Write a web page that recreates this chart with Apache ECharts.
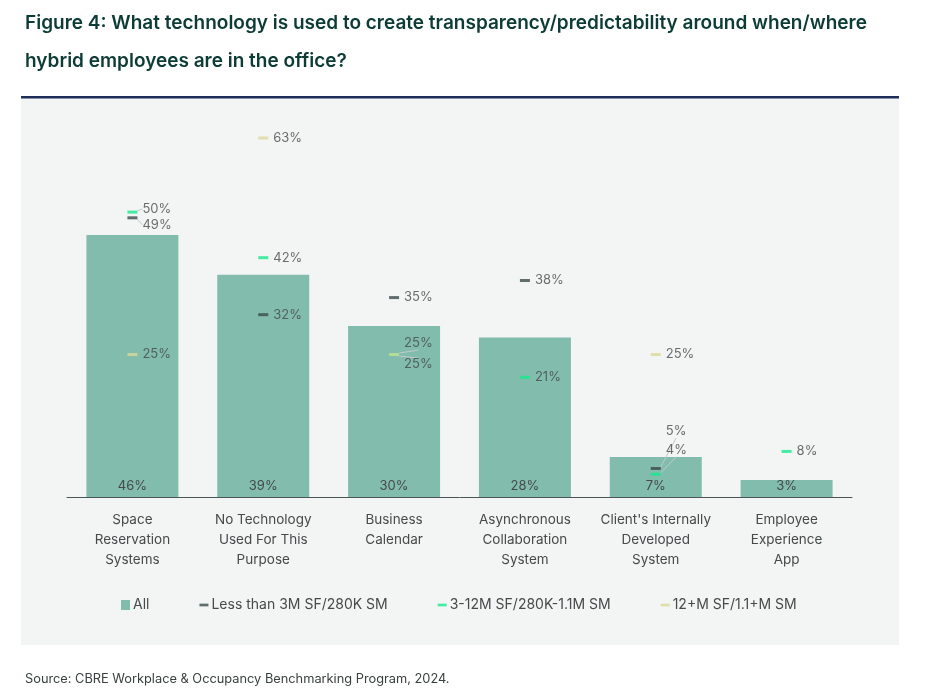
<!DOCTYPE html>
<html>
<head>
<meta charset="utf-8">
<script src="https://cdn.jsdelivr.net/npm/echarts@6/dist/echarts.min.js"></script>
<style>
  html, body { margin: 0; padding: 0; background: #fff; }
  #chart { width: 931px; height: 699px; }
</style>
</head>
<body>
<div id="chart"></div>
<script>
const categories = [
  'Space\nReservation\nSystems',
  'No Technology\nUsed For This\nPurpose',
  'Business\nCalendar',
  'Asynchronous\nCollaboration\nSystem',
  "Client's Internally\nDeveloped\nSystem",
  'Employee\nExperience\nApp'
];
const allValues = [46, 39, 30, 28, 7, 3];
const smallValues = [49, 32, 35, 38, 5, null];
const midValues = [50, 42, 25, 21, 4, 8];
const largeValues = [25, 63, 25, null, 25, null];

// label nudges (px) so close values don't collide
const smallNudge = [7, 0, 0, 0, -37, 0];
const midNudge = [-3, 0, -11, 0, -24, 0];
const largeNudge = [0, 0, 10, 0, 0, 0];

const textColor = '#454a4a';
const fontFamily = 'Inter, "Noto Sans", sans-serif';

function markerSeries(name, values, color, nudge, z) {
  return {
    name: name,
    type: 'scatter',
    data: values.map((v, i) => ({
      value: v,
      labelLine: { show: nudge[i] !== 0 }
    })),
    symbol: 'rect',
    symbolSize: [10, 3],
    itemStyle: { color: color },
    z: z,
    label: {
      show: true,
      position: 'right',
      distance: 5,
      color: textColor,
      fontSize: 13,
      fontFamily: fontFamily,
      formatter: p => p.value + '%'
    },
    labelLayout: p => ({ dy: nudge[p.dataIndex] || 0 }),
    labelLine: { lineStyle: { color: '#c4caca', width: 1 } }
  };
}

document.addEventListener('DOMContentLoaded', () => {
  echarts.init(document.querySelector('#chart')).setOption({
    backgroundColor: '#ffffff',
    animation: false,
    title: [{
      text: 'Figure 4: What technology is used to create transparency/predictability around when/where\nhybrid employees are in the office?',
      left: 20,
      top: -1,
      textStyle: {
        color: '#0d3b35',
        fontSize: 19,
        fontWeight: 600,
        lineHeight: 38,
        fontFamily: fontFamily
      }
    }, {
      text: 'Source: CBRE Workplace & Occupancy Benchmarking Program, 2024.',
      left: 20,
      top: 668,
      textStyle: { color: '#3a3f3f', fontSize: 12.8, fontWeight: 'normal', fontFamily: fontFamily }
    }],
    graphic: [
      { type: 'rect', shape: { x: 21, y: 98, width: 878, height: 547 }, style: { fill: '#f3f5f4' }, z: -10 },
      { type: 'rect', shape: { x: 21, y: 96, width: 878, height: 2.5 }, style: { fill: '#1f2d5a' }, z: -9 }
    ],
    legend: {
      bottom: 82,
      left: 116,
      itemGap: 50,
      itemWidth: 9,
      itemHeight: 10,
      textStyle: { color: textColor, fontSize: 14, fontFamily: fontFamily, padding: [0, 0, 0, -2] },
      data: [
        { name: 'All', icon: 'rect' },
        { name: 'Less than 3M SF/280K SM', icon: 'path://M0,0H10V3H0Z', itemStyle: { color: '#3c4a4a' } },
        { name: '3-12M SF/280K-1.1M SM', icon: 'path://M0,0H10V3H0Z', itemStyle: { color: '#17e88f' } },
        { name: '12+M SF/1.1+M SM', icon: 'path://M0,0H10V3H0Z', itemStyle: { color: '#dbd99a' } }
      ]
    },
    grid: { left: 67, right: 79, top: 105, bottom: 202 },
    xAxis: {
      type: 'category',
      data: categories,
      axisTick: { show: false },
      axisLine: { lineStyle: { color: '#4a5555', width: 1 } },
      axisLabel: {
        color: textColor,
        fontSize: 13.5,
        lineHeight: 20,
        margin: 13,
        fontFamily: fontFamily,
        interval: 0
      }
    },
    yAxis: {
      type: 'value',
      min: 0,
      max: 68.8,
      show: false,
      splitLine: { show: false }
    },
    series: [
      {
        name: 'All',
        type: 'bar',
        data: allValues,
        barWidth: 92,
        itemStyle: { color: '#82bcac' },
        label: {
          show: true,
          position: 'insideBottom',
          distance: 4,
          color: textColor,
          fontSize: 13,
          fontFamily: fontFamily,
          formatter: p => p.value + '%'
        }
      },
      markerSeries('Less than 3M SF/280K SM', smallValues, '#3c4a4a', smallNudge, 5),
      markerSeries('3-12M SF/280K-1.1M SM', midValues, '#17e88f', midNudge, 6),
      markerSeries('12+M SF/1.1+M SM', largeValues, '#dbd99a', largeNudge, 7)
    ]
  });
});
</script>
</body>
</html>
